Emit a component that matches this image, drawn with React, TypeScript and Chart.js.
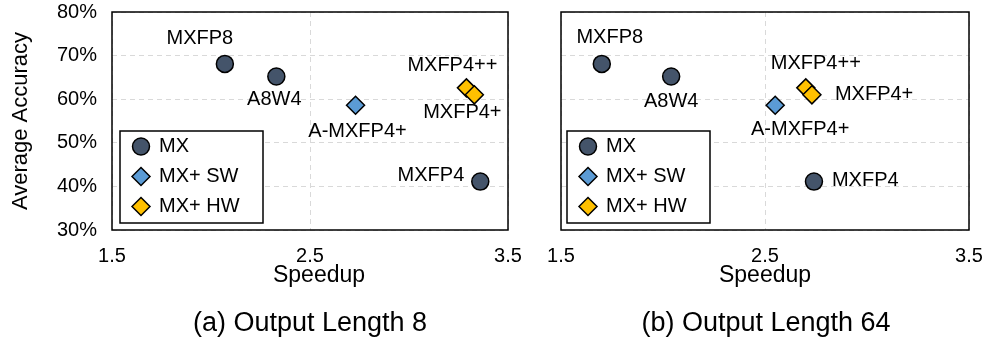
import React, { useEffect, useRef } from 'react';
import { Chart, registerables } from 'chart.js';

Chart.register(...registerables);

const FONT = '"Liberation Sans", Arial, Helvetica, sans-serif';

// ---- Data ----
const mxNames = ['MXFP8', 'A8W4', 'MXFP4'];
const swNames = ['A-MXFP4+'];
const hwNames = ['MXFP4++', 'MXFP4+'];

// (a) Output Length 8
const mxSpeedupA = [2.07, 2.33, 3.36];
const mxAccuracyA = [68.1, 65.2, 41.1];
const swSpeedupA = [2.73];
const swAccuracyA = [58.6];
const hwSpeedupA = [3.29, 3.33];
const hwAccuracyA = [62.6, 61.0];

// (b) Output Length 64
const mxSpeedupB = [1.70, 2.04, 2.74];
const mxAccuracyB = [68.1, 65.2, 41.1];
const swSpeedupB = [2.55];
const swAccuracyB = [58.6];
const hwSpeedupB = [2.70, 2.73];
const hwAccuracyB = [62.6, 61.0];

const xTickValues = [1.5, 2.5, 3.5];
const yTickValues = [30, 40, 50, 60, 70, 80];
const legendLabels = ['MX', 'MX+ SW', 'MX+ HW'];
const captions = ['(a) Output Length 8', '(b) Output Length 64'];
const xTitle = 'Speedup';
const yTitle = 'Average Accuracy';

// ---- Styles ----
const COLORS = { mx: '#44546A', sw: '#5B9BD5', hw: '#FFC000' };
const STYLES = [
  { fill: COLORS.mx, shape: 'circle', radius: 8.5 },
  { fill: COLORS.sw, shape: 'rectRot', radius: 9 },
  { fill: COLORS.hw, shape: 'rectRot', radius: 9 },
];

type Off = { dx: number; dy: number; align?: CanvasTextAlign };
const labelOffsetsA: Off[][] = [
  [{ dx: -25, dy: -25 }, { dx: -2, dy: 23 }, { dx: -16, dy: -6, align: 'right' }],
  [{ dx: 2, dy: 26 }],
  [{ dx: -14, dy: -22 }, { dx: -12, dy: 18 }],
];
const labelOffsetsB: Off[][] = [
  [{ dx: 8, dy: -26 }, { dx: 0, dy: 25 }, { dx: 18, dy: -1, align: 'left' }],
  [{ dx: 25, dy: 24 }],
  [{ dx: 10, dy: -24 }, { dx: 23, dy: 0, align: 'left' }],
];

const pts = (xs: number[], ys: number[]) => xs.map((x, i) => ({ x, y: ys[i] }));

const framePlugin = {
  id: 'frame',
  beforeDatasetsDraw(chart: any) {
    const { ctx, chartArea: a } = chart;
    ctx.save();
    ctx.strokeStyle = '#000';
    ctx.lineWidth = 1.5;
    ctx.strokeRect(a.left, a.top, a.right - a.left, a.bottom - a.top);
    ctx.restore();
  },
};

function drawMarker(ctx: CanvasRenderingContext2D, shape: string, x: number, y: number, r: number, fill: string) {
  ctx.beginPath();
  if (shape === 'circle') {
    ctx.arc(x, y, r, 0, Math.PI * 2);
  } else {
    ctx.moveTo(x, y - r);
    ctx.lineTo(x + r, y);
    ctx.lineTo(x, y + r);
    ctx.lineTo(x - r, y);
    ctx.closePath();
  }
  ctx.fillStyle = fill;
  ctx.fill();
  ctx.lineWidth = 1.5;
  ctx.strokeStyle = '#000';
  ctx.stroke();
}

const labelsPlugin = {
  id: 'pointLabelsAndLegend',
  afterDatasetsDraw(chart: any, _args: any, opts: any) {
    const ctx: CanvasRenderingContext2D = chart.ctx;
    const a = chart.chartArea;
    ctx.save();
    ctx.font = `20px ${FONT}`;
    ctx.fillStyle = '#000';
    ctx.textBaseline = 'middle';
    chart.data.datasets.forEach((ds: any, i: number) => {
      const meta = chart.getDatasetMeta(i);
      meta.data.forEach((el: any, j: number) => {
        const off: Off = opts.offsets[i][j];
        ctx.textAlign = off.align || 'center';
        ctx.fillText(ds.pointNames[j], el.x + off.dx, el.y + off.dy);
      });
    });
    // x axis title
    ctx.font = `23px ${FONT}`;
    ctx.textAlign = 'center';
    ctx.fillText(xTitle, (a.left + a.right) / 2 + opts.titleDx, 276);
    // legend box
    const bx = a.left + opts.legendDx;
    const by = a.top + 119;
    const bw = 143;
    const bh = 92;
    ctx.fillStyle = '#fff';
    ctx.fillRect(bx, by, bw, bh);
    ctx.strokeStyle = '#000';
    ctx.lineWidth = 1.5;
    ctx.strokeRect(bx, by, bw, bh);
    legendLabels.forEach((lab, k) => {
      const cy = by + 15.5 + k * 30;
      const st = STYLES[k];
      drawMarker(ctx, st.shape, bx + 21, cy, st.radius, st.fill);
      ctx.fillStyle = '#000';
      ctx.textAlign = 'left';
      ctx.font = `20px ${FONT}`;
      ctx.fillText(lab, bx + 39, cy);
    });
    ctx.restore();
  },
};

const zeroPad = (scale: any) => {
  scale.paddingLeft = 0;
  scale.paddingRight = 0;
  scale.paddingTop = 0;
  scale.paddingBottom = 0;
};

function buildConfig(
  mx: { x: number; y: number }[],
  sw: { x: number; y: number }[],
  hw: { x: number; y: number }[],
  offsets: Off[][],
  showY: boolean,
  yWidth: number,
  padRight: number,
  legendDx: number,
  titleDx: number
): any {
  const sets = [
    { data: mx, names: mxNames },
    { data: sw, names: swNames },
    { data: hw, names: hwNames },
  ];
  return {
    type: 'scatter',
    data: {
      datasets: sets.map((s, i) => ({
        label: legendLabels[i],
        data: s.data,
        pointNames: s.names,
        pointStyle: STYLES[i].shape,
        pointRadius: STYLES[i].radius,
        pointBackgroundColor: STYLES[i].fill,
        pointBorderColor: '#000',
        pointBorderWidth: 1.5,
      })),
    },
    options: {
      responsive: false,
      animation: false,
      devicePixelRatio: 1,
      layout: { padding: { left: 0, right: padRight, top: 12, bottom: 0 } },
      plugins: {
        legend: { display: false },
        tooltip: { enabled: false },
        pointLabelsAndLegend: { offsets, legendDx, titleDx },
      },
      scales: {
        x: {
          type: 'linear',
          min: 1.5,
          max: 3.5,
          afterBuildTicks: (scale: any) => {
            scale.ticks = xTickValues.map((v) => ({ value: v }));
          },
          afterFit: (scale: any) => {
            scale.height = 123;
            zeroPad(scale);
          },
          grid: { color: '#d9d9d9', lineWidth: 1, drawTicks: false },
          border: { display: false, dash: [5, 4] },
          ticks: {
            padding: 14,
            color: '#000',
            font: { family: FONT, size: 20 },
            callback: (v: number) => v.toFixed(1),
          },
          title: { display: false },
        },
        y: {
          type: 'linear',
          min: 30,
          max: 80,
          afterBuildTicks: (scale: any) => {
            scale.ticks = yTickValues.map((v) => ({ value: v }));
          },
          afterFit: (scale: any) => {
            scale.width = yWidth;
            zeroPad(scale);
          },
          grid: { color: '#d9d9d9', lineWidth: 1, drawTicks: false },
          border: { display: false, dash: [5, 4] },
          ticks: {
            display: showY,
            padding: 15,
            color: '#000',
            font: { family: FONT, size: 20 },
            callback: (v: number) => v + '%',
          },
          title: {
            display: showY,
            text: yTitle,
            color: '#000',
            font: { family: FONT, size: 22 },
            padding: { top: 8, bottom: 0 },
          },
        },
      },
    },
    plugins: [framePlugin, labelsPlugin],
  };
}

function Panel(props: { config: any; left: number; width: number }) {
  const ref = useRef<HTMLCanvasElement>(null);
  useEffect(() => {
    if (!ref.current) return;
    const chart = new Chart(ref.current, props.config);
    return () => chart.destroy();
  }, []);
  return (
    <canvas
      ref={ref}
      width={props.width}
      height={353}
      style={{ position: 'absolute', left: props.left, top: 0, width: props.width, height: 353 }}
    />
  );
}

export default function App() {
  const cfgA = buildConfig(
    pts(mxSpeedupA, mxAccuracyA),
    pts(swSpeedupA, swAccuracyA),
    pts(hwSpeedupA, hwAccuracyA),
    labelOffsetsA,
    true,
    112,
    32,
    8,
    9
  );
  const cfgB = buildConfig(
    pts(mxSpeedupB, mxAccuracyB),
    pts(swSpeedupB, swAccuracyB),
    pts(hwSpeedupB, hwAccuracyB),
    labelOffsetsB,
    false,
    21,
    28,
    6,
    0
  );
  const capStyle = (center: number): React.CSSProperties => ({
    position: 'absolute',
    left: center - 200,
    width: 400,
    top: 308,
    height: 28,
    lineHeight: '28px',
    fontSize: 27,
    fontFamily: FONT,
    textAlign: 'center',
    color: '#000',
    whiteSpace: 'nowrap',
  });
  return (
    <div style={{ position: 'absolute', left: 0, top: 0, width: 997, height: 353, background: '#fff', overflow: 'hidden' }}>
      <Panel config={cfgA} left={0} width={540} />
      <Panel config={cfgB} left={540} width={457} />
      <div style={capStyle(310)}>{captions[0]}</div>
      <div style={capStyle(766)}>{captions[1]}</div>
    </div>
  );
}
